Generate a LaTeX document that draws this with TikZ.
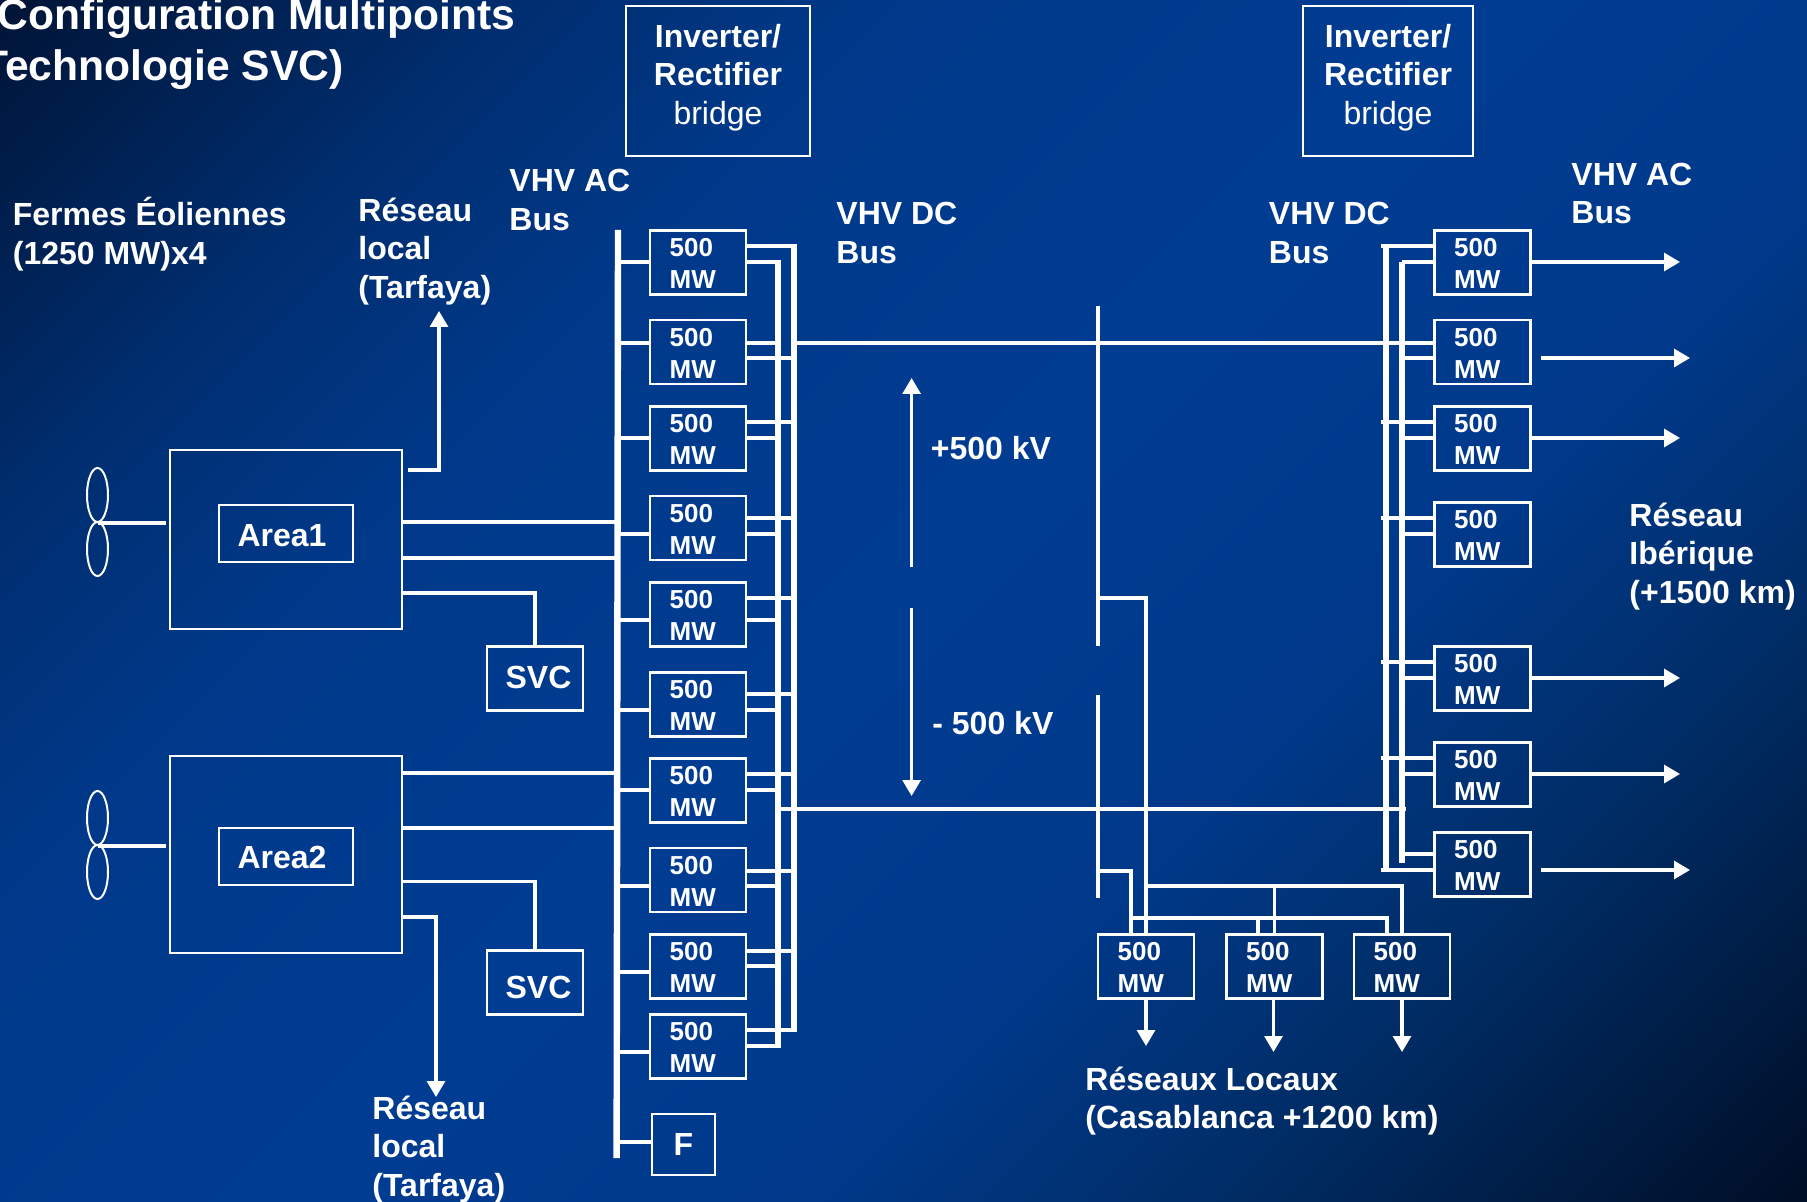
\documentclass[tikz,border=0pt]{standalone}
\usepackage{fontspec}
\setmainfont{Liberation Sans}
\usepackage{xcolor}
\usetikzlibrary{
  arrows.meta,
  positioning,
  shapes.geometric,
  calc
}
\definecolor{skyA}{HTML}{000F28}
\definecolor{skyB}{HTML}{002C64}
\definecolor{skyC}{HTML}{00398A}
\definecolor{skyD}{HTML}{003C92}
\definecolor{skyE}{HTML}{002E70}
\definecolor{skyF}{HTML}{001538}
\pgfdeclareverticalshading{skydiag}{100bp}{color(0bp)=(skyA); color(15bp)=(skyA); color(28bp)=(skyB); color(38bp)=(skyC); color(50bp)=(skyD); color(64bp)=(skyC); color(73bp)=(skyE); color(85bp)=(skyF); color(100bp)=(skyF)}

\begin{document}
\begin{tikzpicture}[
  x=0.5pt, y=-0.5pt,
  mwbox/.style={draw=white, line width=1.25pt, text=white,
                minimum height=32pt, inner xsep=9.8pt, inner ysep=0pt, text width=28.4pt, align=left,
                text height=10.3pt, font=\fontsize{13}{16}\selectfont\bfseries},
  svcbox/.style={draw=white, line width=1.25pt, text=white,
                 minimum width=48pt, minimum height=32pt, inner sep=0pt,
                 font=\fontsize{16}{19}\selectfont\bfseries},
  areabox/.style={draw=white, line width=1.25pt, minimum width=116pt, inner sep=0pt},
  invbox/.style={draw=white, line width=1.25pt, text=white, inner sep=0pt, align=center,
                 minimum height=75pt, text depth=6.9pt, font=\fontsize{16}{19.2}\selectfont},
  blade/.style={draw=white, line width=1pt, ellipse, minimum width=10.5pt, minimum height=27pt, inner sep=0pt},
  lbl/.style={text=white, inner sep=0pt, anchor=west, align=left,
              font=\fontsize{16}{19.2}\selectfont\bfseries},
  wire/.style={draw=white, line width=1.55pt},
  flow/.style={wire, -{Triangle[length=8pt,width=9pt]}},
  acrail/.style={draw=white, line width=3.2pt},
  dcrail/.style={draw=white, line width=3pt}
]

% background
\useasboundingbox (0,0) rectangle (1807,1202);
\path[shading=skydiag, shading angle=45] (0,0) rectangle (1807,1202);

% title
\node[lbl, font=\fontsize{21.3}{25}\selectfont\bfseries] (title1) at (-3,19) {Configuration Multipoints};
\node[lbl, font=\fontsize{21.3}{25}\selectfont\bfseries] (title2) at (-18,70) {Technologie SVC)};

% labels
\node[lbl] (farms) at (12.5,234) {Fermes Éoliennes\\(1250 MW)x4};
\node[lbl] (localA) at (358,251.5) {Réseau\\local\\(Tarfaya)};
\node[lbl] (localB) at (372,1149.5) {Réseau\\local\\(Tarfaya)};
\node[lbl] (acbusA) at (509,200) {VHV AC\\Bus};
\node[lbl] (acbusB) at (1571,193.5) {VHV AC\\Bus};
\node[lbl] (dcbusA) at (836,233) {VHV DC\\Bus};
\node[lbl] (dcbusB) at (1268.5,233) {VHV DC\\Bus};
\node[lbl] (iberia) at (1629,556.5) {Réseau\\Ibérique\\(+1500 km)};
\node[lbl] (casa) at (1085,1101) {Réseaux Locaux\\(Casablanca +1200 km)};
\node[lbl] (plusKV) at (930.5,448) {+500 kV};
\node[lbl] (minusKV) at (932,723) {- 500 kV};

% bridges
\node[invbox, minimum width=92pt] (bridgeA) at (718,81) {\textbf{Inverter/}\\\textbf{Rectifier}\\bridge};
\node[invbox, minimum width=85pt] (bridgeB) at (1388,81) {\textbf{Inverter/}\\\textbf{Rectifier}\\bridge};

% AC and DC rails
\coordinate (acTop) at (618,230);
\coordinate (acEnd) at (616.6,1158);
\coordinate (leftOutTop) at (794,244);
\coordinate (leftOutEnd) at (794,1032);
\coordinate (leftInTop) at (778,260);
\coordinate (leftInEnd) at (778,1048);
\coordinate (rightOutTop) at (1386,246);
\coordinate (rightOutEnd) at (1386,870);
\coordinate (rightInTop) at (1402,262);
\coordinate (rightInEnd) at (1402,863);
\draw[acrail] (acTop) -- (acEnd);
\draw[dcrail] (leftOutTop) -- (leftOutEnd);
\draw[dcrail] (leftInTop) -- (leftInEnd);
\draw[dcrail] (rightOutTop) -- (rightOutEnd);
\draw[dcrail] (rightInTop) -- (rightInEnd);

% left converters
\foreach \n/\c/\ac/\po/\pi in {1/262.5/262/246/262, 2/352/343/358/343, 3/438.5/438/422/438,
  4/528/534/518/534, 5/614.5/620/598/620, 6/704.5/710/694/710, 7/790.5/790/774/790,
  8/880/886/871/886, 9/966.5/972/951/966, 10/1046.5/1052/1030/1046}{
  \node[mwbox] (L\n) at (698,\c) {500\\MW};
  \coordinate (Lac\n) at (649,\ac);
  \coordinate (Lout\n) at (747,\po);
  \coordinate (Lin\n) at (747,\pi);
  \draw[wire] (acTop |- Lac\n) -- (Lac\n);
  \draw[wire] (Lout\n) -- (leftOutTop |- Lout\n);
  \draw[wire] (Lin\n) -- (leftInTop |- Lin\n);
}

% right converters
\foreach \n/\c/\po/\pi in {1/262.5/246/262, 2/352/343/358, 3/438.5/422/438, 4/534.5/518/534,
  5/678.5/662/678, 6/774.5/758/774, 7/864.5/870/854}{
  \node[mwbox] (R\n) at (1482.5,\c) {500\\MW};
  \coordinate (Rout\n) at (1434,\po);
  \coordinate (Rin\n) at (1434,\pi);
  \draw[wire, shorten <=-2.5pt] (rightOutTop |- Rout\n) -- (Rout\n);
  \draw[wire, shorten >=-1pt] (rightInTop |- Rin\n) -- (Rin\n);
}

% outputs to the right
\foreach \n/\y/\x/\g in {1/262/1680/0, 2/358/1690/4.5, 3/438/1680/0, 5/678/1680/0, 6/774/1680/0, 7/870/1690/4.5}{
  \coordinate (exit\n) at (\x,\y);
  \draw[flow, shorten <=\g pt] (R\n.east |- exit\n) -- (exit\n);
}

% main DC lines
\draw[wire] (leftOutTop |- Rout2) -- (Rout2);
\coordinate (negStart) at (781,809);
\coordinate (negStop) at (1406,809);
\draw[wire] (negStart) -- (negStop);

% voltage arrows
\coordinate (plusFoot) at (911.6,567);
\coordinate (plusHead) at (911.6,378);
\coordinate (minusFoot) at (911.6,608);
\coordinate (minusHead) at (911.6,796);
\draw[flow] (plusFoot) -- (plusHead);
\draw[flow] (minusFoot) -- (minusHead);

% bottom converters
\node[mwbox] (B1) at (1146,966.5) {500\\MW};
\node[mwbox] (B2) at (1274.5,966.5) {500\\MW};
\node[mwbox] (B3) at (1402,966.5) {500\\MW};
\coordinate (drop1) at (1146,1046);
\coordinate (drop2) at (1273.5,1052);
\coordinate (drop3) at (1402,1052);
\foreach \n in {1,2,3}{
  \draw[flow] (B\n.south -| drop\n) -- (drop\n);
}

% taps on the DC lines
\coordinate (posTapTop) at (1098,306);
\coordinate (posTapEnd) at (1098,646);
\coordinate (negTapTop) at (1098,695);
\coordinate (negTapEnd) at (1098,898);
\coordinate (posOut) at (1098,598);
\coordinate (negOut) at (1098,871);
\coordinate (posRail) at (1146,886);
\coordinate (negRail) at (1131,918);
\coordinate (negIn1) at (1131,934);
\coordinate (negIn2) at (1258,934);
\coordinate (negIn3) at (1387,934);
\draw[wire] (posTapTop) -- (posTapEnd);
\draw[wire] (negTapTop) -- (negTapEnd);
\draw[wire] (posOut) -| (B1.north);
\draw[wire] (posRail) -| (B3.north);
\draw[wire] (B2.north |- posRail) -- (B2.north);
\draw[wire] (negOut) -| (negIn1);
\draw[wire] (negRail) -| (negIn3);
\draw[wire] (negIn2 |- negRail) -- (negIn2);

% wind farm areas
\node[areabox, minimum height=89.5pt] (area1) at (286,539.5) {};
\node[areabox, minimum height=98.5pt] (area2) at (286,854.5) {};
\node[svcbox, minimum width=67pt, minimum height=28.5pt, text height=13pt] (zone1) at (286,533.5) {Area1\kern4pt};
\node[svcbox, minimum width=67pt, minimum height=28.5pt, text height=12.5pt] (zone2) at (286,856.5) {Area2\kern4pt};
\node[blade] (bladeA1) at (97.5,495) {};
\node[blade] (bladeA2) at (97.5,549) {};
\node[blade] (bladeB1) at (97.5,818) {};
\node[blade] (bladeB2) at (97.5,872) {};
\draw[wire, shorten >=1.5pt] (bladeA1.south) -- (area1.west |- bladeA1.south);
\draw[wire, shorten >=1.5pt] (bladeB1.south) -- (area2.west |- bladeB1.south);
\node[svcbox, text depth=1.2pt] (svc1) at (535,678.5) {\kern3.5pt SVC};
\node[svcbox, text height=15.5pt, text depth=0pt] (svc2) at (535,982.5) {\kern3.5pt SVC};
\node[svcbox, minimum width=31.5pt, minimum height=30.5pt] (fbox) at (683.5,1144.5) {F};
\coordinate (fIn) at (651,1142);
\draw[wire] (acTop |- fIn) -- (fIn);

% links from the areas to the AC bus
\foreach \a/\y in {area1/522, area1/558, area2/773, area2/828}{
  \coordinate (feed) at (615,\y);
  \draw[wire] (\a.east |- feed) -- (feed);
}
\coordinate (svcTapA) at (402,593);
\coordinate (svcTapB) at (402,881.5);
\draw[wire] (svcTapA) -| (svc1.north);
\draw[wire] (svcTapB) -| (svc2.north);

% local grids
\coordinate (localTurnA) at (439,470);
\coordinate (localHeadA) at (439,311);
\coordinate (localTurnB) at (436,917);
\coordinate (localHeadB) at (436,1097);
\draw[flow, shorten <=2.5pt] (area1.east |- localTurnA) -- (localTurnA) -- (localHeadA);
\draw[flow] (area2.east |- localTurnB) -- (localTurnB) -- (localHeadB);

\end{tikzpicture}
\end{document}
